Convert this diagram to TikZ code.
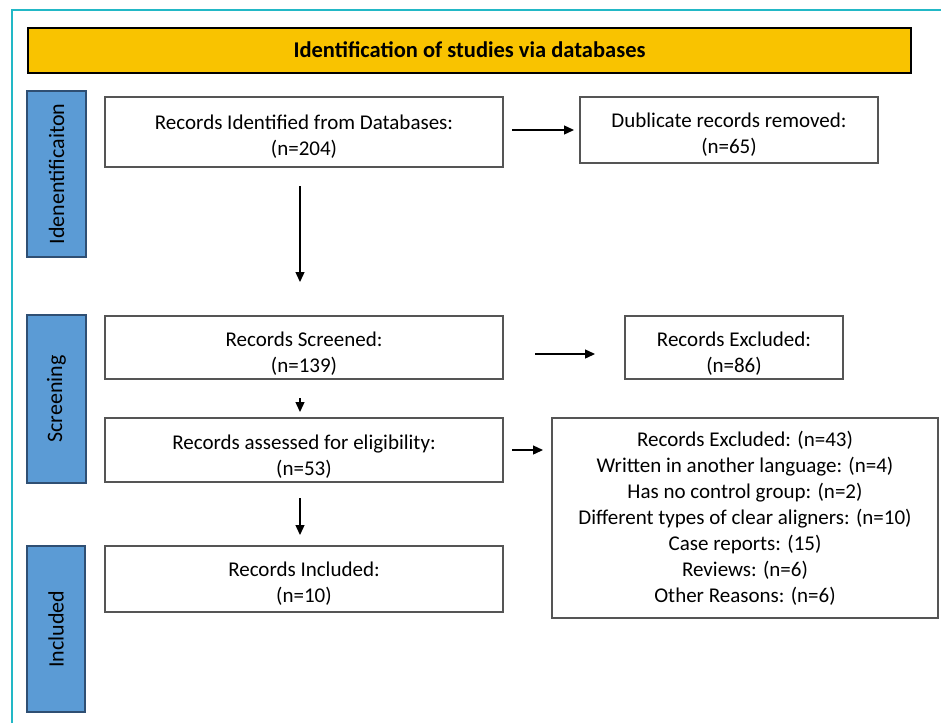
\documentclass[tikz,border=0pt]{standalone}
\usepackage{fontspec}
\setmainfont{Carlito}
\usetikzlibrary{arrows.meta}
\definecolor{bannery}{HTML}{F9C300}
\definecolor{sideblue}{HTML}{5B9BD5}
\definecolor{sideedge}{HTML}{2F4F73}
\definecolor{framecyan}{HTML}{22B8C6}
\definecolor{boxedge}{HTML}{555555}
\begin{document}
\begin{tikzpicture}[x=1pt,y=-1pt,
  box/.style={draw=boxedge,line width=1.2pt,fill=white,minimum width=#1,inner sep=0pt},
  txt/.style={inner sep=0pt,align=center,font=\fontsize{21}{26}\selectfont},
  sidebar/.style={draw=sideedge,line width=1.3pt,fill=sideblue,inner sep=0pt},
  sidetext/.style={rotate=90,font=\fontsize{22}{26}\selectfont},
  arr/.style={line width=1.3pt,-{Triangle[length=10pt,width=9pt]}}]
\useasboundingbox (0,0) rectangle (941,723);
\fill[white] (0,0) rectangle (941,723);
\draw[framecyan,line width=2pt] (12,723) -- (12,10) -- (941,10);
% banner
\node[draw=black,line width=2pt,fill=bannery,minimum width=883pt,minimum height=45pt,inner sep=0pt,font=\fontsize{22.5}{26}\selectfont\bfseries] (banner) at (469.5,50) {Identification of studies via databases};
% side bars
\node[sidebar,minimum width=59pt,minimum height=166pt] (sb1) at (56.5,174) {};
\node[sidetext] (sl1) at (sb1.center) {Idenentificaiton};
\node[sidebar,minimum width=59pt,minimum height=168pt] (sb2) at (56.5,399) {};
\node[sidetext] (sl2) at (sb2.center) {Screening};
\node[sidebar,minimum width=58pt,minimum height=166pt] (sb3) at (56,629) {};
\node[sidetext] (sl3) at (sb3.center) {Included};
% main boxes
\node[box=398pt,minimum height=70pt] (ident) at (304,132) {};
\node[txt] (identt) at ([yshift=-4.5pt]ident.center) {Records Identified from Databases:\\(n=204)};
\node[box=298pt,minimum height=66pt] (dup) at (729,130) {};
\node[txt] (dupt) at ([yshift=-5pt]dup.center) {Dublicate records removed:\hspace{38pt}\\(n=65)};
\node[box=398pt,minimum height=63pt] (screen) at (304,347.5) {};
\node[txt] (screent) at ([yshift=-6.5pt]screen.center) {Records Screened:\\(n=139)};
\node[box=218pt,minimum height=63pt] (exc1) at (734,347.5) {};
\node[txt] (exc1t) at ([yshift=-6pt]exc1.center) {Records Excluded:\\(n=86)};
\node[box=398pt,minimum height=64pt] (assess) at (304,450) {};
\node[txt] (assesst) at ([yshift=-6.5pt]assess.center) {Records assessed for eligibility:\\(n=53)};
\node[box=386pt,minimum height=200pt] (exc2) at (745,518) {};
\node[txt] (exc2t) at (exc2.center) {Records Excluded: (n=43)\\Written in another language: (n=4)\\Has no control group: (n=2)\\Different types of clear aligners: (n=10)\\Case reports: (15)\\Reviews: (n=6)\\Other Reasons: (n=6)};
\node[box=398pt,minimum height=66pt] (incl) at (304,579) {};
\node[txt] (inclt) at ([yshift=-4.5pt]incl.center) {Records Included:\\(n=10)};
% connectors
\coordinate (a1s) at (300,186);
\coordinate (a1e) at (300,282);
\draw[arr] (a1s) -- (a1e);
\coordinate (a2s) at (512,130);
\coordinate (a2e) at (574,130);
\draw[arr] (a2s) -- (a2e);
\coordinate (a3s) at (535,354);
\coordinate (a3e) at (595,354);
\draw[arr] (a3s) -- (a3e);
\coordinate (a4s) at (300,398);
\coordinate (a4e) at (300,412);
\draw[arr] (a4s) -- (a4e);
\coordinate (a5s) at (512,450);
\coordinate (a5e) at (543,450);
\draw[arr] (a5s) -- (a5e);
\coordinate (a6s) at (300,498);
\coordinate (a6e) at (300,535);
\draw[arr] (a6s) -- (a6e);
\end{tikzpicture}
\end{document}
